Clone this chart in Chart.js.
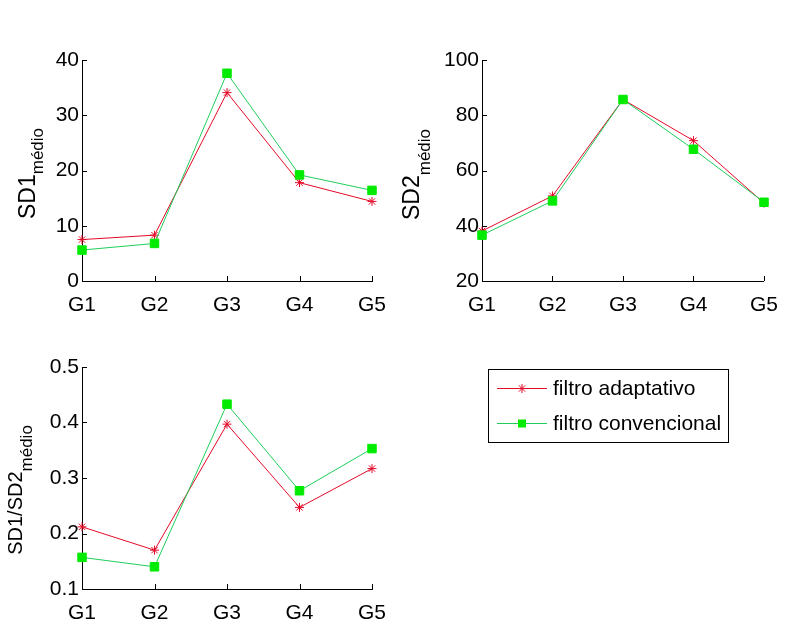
<!DOCTYPE html>
<html>
<head>
<meta charset="utf-8">
<script src="https://cdn.jsdelivr.net/npm/chart.js@4.4.1/dist/chart.umd.min.js"></script>
<style>
  body { margin: 0; background: #fff; width: 790px; height: 626px; position: relative; overflow: hidden;
         font-family: "Liberation Sans", Arial, sans-serif; }
  canvas.graf { position: absolute; }
  #legenda { position: absolute; left: 488px; top: 369px; width: 239px; height: 72px;
             border: 1px solid #000; background: #fff; }
  #legenda .linha { position: absolute; left: 8px; height: 20px; display: flex; align-items: center;
                    font-size: 21px; color: #000; white-space: nowrap; }
  #legenda canvas { margin-right: 6px; }
</style>
</head>
<body>
<canvas class="graf" id="g1"></canvas>
<canvas class="graf" id="g2"></canvas>
<canvas class="graf" id="g3"></canvas>
<div id="legenda">
  <div class="linha" style="top:8px"><canvas id="amostraA" width="50" height="20"></canvas>filtro adaptativo</div>
  <div class="linha" style="top:43px"><canvas id="amostraC" width="50" height="20"></canvas>filtro convencional</div>
</div>
<script>
const grupos = ['G1', 'G2', 'G3', 'G4', 'G5'];

// SD1 médio
const sd1Adapt = [7.5, 8.3, 34.1, 17.8, 14.4];
const sd1Conv  = [5.6, 6.8, 37.6, 19.2, 16.4];
const ticksSd1 = [0, 10, 20, 30, 40];

// SD2 médio
const sd2Adapt = [38.1, 50.8, 85.7, 70.8, 48.2];
const sd2Conv  = [36.6, 49.0, 85.7, 67.7, 48.5];
const ticksSd2 = [20, 40, 60, 80, 100];

// SD1/SD2 médio
const razaoAdapt = [0.212, 0.170, 0.397, 0.247, 0.317];
const razaoConv  = [0.157, 0.140, 0.433, 0.277, 0.353];
const ticksRazao = [0.1, 0.2, 0.3, 0.4, 0.5];

const nomes = ['filtro adaptativo', 'filtro convencional'];

const VERMELHO = 'rgb(228, 10, 40)';
const VERDE_LINHA = 'rgb(30, 205, 90)';
const VERDE_PONTO = 'rgb(0, 235, 0)';
const FONTE = '"Liberation Sans", Arial, sans-serif';

// marcas de escala para dentro, como no matlab
const marcasInternas = {
    id: 'marcasInternas',
    afterDraw(chart) {
        const ctx = chart.ctx;
        const sx = chart.scales.x, sy = chart.scales.y;
        const a = chart.chartArea;
        ctx.save();
        ctx.strokeStyle = '#000';
        ctx.lineWidth = 1;
        ctx.beginPath();
        sx.ticks.forEach((t, i) => {
            const x = Math.round(sx.getPixelForTick(i)) + 0.5;
            ctx.moveTo(x, a.bottom);
            ctx.lineTo(x, a.bottom - 5);
        });
        sy.ticks.forEach((t, i) => {
            const y = Math.round(sy.getPixelForTick(i)) + 0.5;
            ctx.moveTo(a.left, y);
            ctx.lineTo(a.left + 5, y);
        });
        ctx.stroke();
        ctx.restore();
    }
};

// rótulo do eixo y com subscrito
const rotuloY = {
    id: 'rotuloY',
    afterDraw(chart, args, opts) {
        const ctx = chart.ctx;
        const a = chart.chartArea;
        const fSub = '17px ' + FONTE;
        ctx.save();
        ctx.fillStyle = '#000';
        ctx.font = opts.tamanho + 'px ' + FONTE;
        const wp = ctx.measureText(opts.texto).width;
        ctx.font = fSub;
        const ws = ctx.measureText(opts.sub).width;
        const total = wp + ws;
        ctx.translate(a.left - opts.dx, (a.top + a.bottom) / 2 + opts.dy);
        ctx.rotate(-Math.PI / 2);
        ctx.textBaseline = 'alphabetic';
        ctx.textAlign = 'left';
        ctx.font = opts.tamanho + 'px ' + FONTE;
        ctx.fillText(opts.texto, -total / 2, 0);
        ctx.font = fSub;
        ctx.fillText(opts.sub, -total / 2 + wp, opts.desce);
        ctx.restore();
    }
};

function grafico(id, area, padDir, serieA, serieC, ticks, rot) {
    const c = document.getElementById(id);
    const w = area.w + 82 + padDir, h = area.h + 20 + 40;
    c.width = w; c.height = h;
    c.style.width = w + 'px'; c.style.height = h + 'px';
    c.style.left = (area.x - 82) + 'px';
    c.style.top = (area.y - 20) + 'px';

    new Chart(c, {
        type: 'line',
        data: {
            labels: grupos,
            datasets: [{
                label: nomes[0],
                data: serieA,
                borderColor: VERMELHO,
                backgroundColor: VERMELHO,
                borderWidth: 1,
                pointStyle: 'star',
                pointRadius: 4.5,
                pointBorderWidth: 1,
                pointBorderColor: VERMELHO,
                tension: 0,
                order: 1
            }, {
                label: nomes[1],
                data: serieC,
                borderColor: VERDE_LINHA,
                backgroundColor: VERDE_PONTO,
                borderWidth: 1,
                pointStyle: 'rect',
                pointRadius: 6,
                pointBorderWidth: 1,
                pointBorderColor: VERDE_PONTO,
                pointBackgroundColor: VERDE_PONTO,
                tension: 0,
                order: 0
            }]
        },
        options: {
            responsive: false,
            animation: false,
            layout: { padding: { top: 20, right: padDir, left: 0, bottom: 0 } },
            plugins: {
                legend: { display: false },
                tooltip: { enabled: false },
                rotuloY: rot
            },
            scales: {
                x: {
                    offset: false,
                    grid: { display: false, drawTicks: false },
                    border: { color: '#000', width: 1 },
                    ticks: { color: '#000', font: { size: 21, family: FONTE }, padding: 12,
                             maxRotation: 0, autoSkip: false },
                    afterFit: s => { s.height = 40; }
                },
                y: {
                    min: ticks[0],
                    max: ticks[ticks.length - 1],
                    grid: { display: false, drawTicks: false },
                    border: { color: '#000', width: 1 },
                    ticks: { color: '#000', font: { size: 21, family: FONTE }, padding: 3,
                             callback: v => String(v) },
                    afterBuildTicks: s => { s.ticks = ticks.map(v => ({ value: v })); },
                    afterFit: s => { s.width = 82; }
                }
            }
        },
        plugins: [marcasInternas, rotuloY]
    });
}

grafico('g1', { x: 82, y: 60, w: 290, h: 221 }, 30, sd1Adapt, sd1Conv, ticksSd1,
        { texto: 'SD1', sub: 'médio', tamanho: 23, dx: 47, dy: 3, desce: 8 });
grafico('g2', { x: 482, y: 60, w: 290, h: 221 }, 18, sd2Adapt, sd2Conv, ticksSd2,
        { texto: 'SD2', sub: 'médio', tamanho: 23, dx: 63, dy: 4, desce: 11 });
grafico('g3', { x: 82, y: 367, w: 290, h: 222 }, 30, razaoAdapt, razaoConv, ticksRazao,
        { texto: 'SD1/SD2', sub: 'médio', tamanho: 20, dx: 60, dy: 12, desce: 10 });

// amostras da legenda
function amostra(id, cor, corPonto, tipo) {
    const ctx = document.getElementById(id).getContext('2d');
    ctx.strokeStyle = cor;
    ctx.lineWidth = 1;
    ctx.beginPath();
    ctx.moveTo(0, 10.5); ctx.lineTo(50, 10.5);
    ctx.stroke();
    ctx.fillStyle = corPonto;
    ctx.strokeStyle = corPonto;
    if (tipo === 'star') {
        ctx.beginPath();
        const r = 4.5;
        for (let k = 0; k < 4; k++) {
            const ang = k * Math.PI / 4;
            ctx.moveTo(25 - r * Math.cos(ang), 10.5 - r * Math.sin(ang));
            ctx.lineTo(25 + r * Math.cos(ang), 10.5 + r * Math.sin(ang));
        }
        ctx.stroke();
    } else {
        ctx.fillRect(21, 6.5, 8, 8);
    }
}
amostra('amostraA', VERMELHO, VERMELHO, 'star');
amostra('amostraC', VERDE_LINHA, VERDE_PONTO, 'rect');
</script>
</body>
</html>
